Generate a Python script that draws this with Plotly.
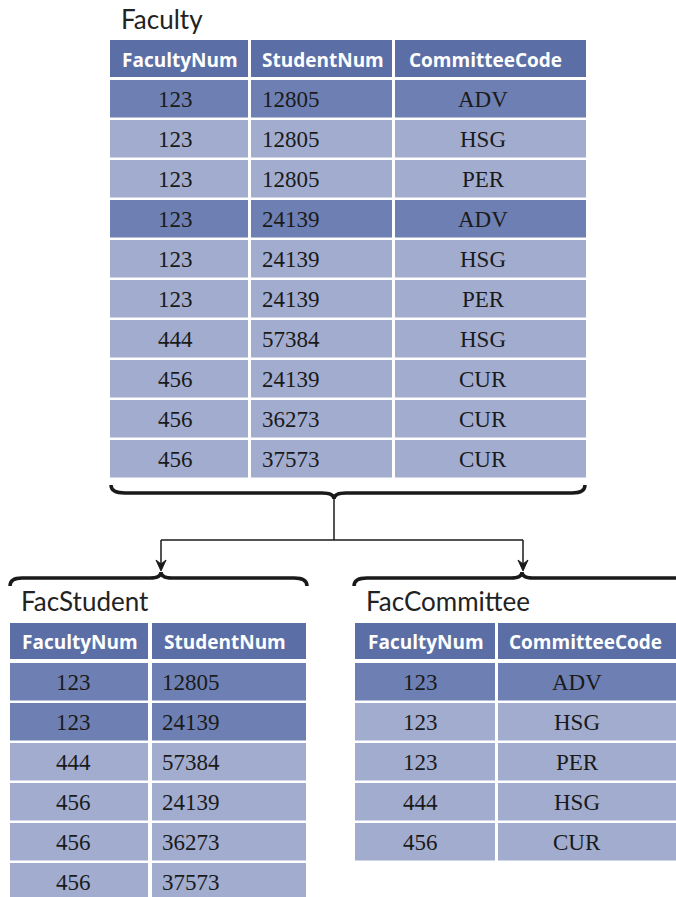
import plotly.graph_objects as go

# ---------------- data ----------------
faculty_title = "Faculty"
faculty_headers = ["FacultyNum", "StudentNum", "CommitteeCode"]
faculty_facnum = ["123", "123", "123", "123", "123", "123", "444", "456", "456", "456"]
faculty_stdnum = ["12805", "12805", "12805", "24139", "24139", "24139", "57384", "24139", "36273", "37573"]
faculty_code = ["ADV", "HSG", "PER", "ADV", "HSG", "PER", "HSG", "CUR", "CUR", "CUR"]

facstudent_title = "FacStudent"
facstudent_headers = ["FacultyNum", "StudentNum"]
facstudent_facnum = ["123", "123", "444", "456", "456", "456"]
facstudent_stdnum = ["12805", "24139", "57384", "24139", "36273", "37573"]

faccommittee_title = "FacCommittee"
faccommittee_headers = ["FacultyNum", "CommitteeCode"]
faccommittee_facnum = ["123", "123", "123", "444", "456"]
faccommittee_code = ["ADV", "HSG", "PER", "HSG", "CUR"]

# ---------------- style ----------------
HEADER = "#5b6fa6"
DARK = "#6e80b3"
LIGHT = "#a1accf"
TITLE_FONT = "Lato, 'Noto Sans', sans-serif"
HEAD_FONT = "'Open Sans', 'Noto Sans', sans-serif"
SERIF = "'Liberation Serif', 'Times New Roman', serif"

W, H = 676, 897
shapes = []
annotations = []


def rect(x0, x1, y0, y1, color):
    shapes.append(dict(type="rect", xref="x", yref="y", x0=x0, x1=x1, y0=y0, y1=y1,
                       fillcolor=color, line=dict(width=0), layer="below"))


def text(x, y, s, font, size, color, anchor="center", bold=False):
    annotations.append(dict(x=x, y=y, xref="x", yref="y", text=("<b>%s</b>" % s) if bold else s,
                            showarrow=False, xanchor=anchor, yanchor="middle",
                            font=dict(family=font, size=size, color=color)))


def table(title, title_xy, headers, columns, col_bounds, head_cx, cell_x, cell_anchor,
          header_y, row_top, row_pitch, row_h, dark_rows):
    text(title_xy[0], title_xy[1], title, TITLE_FONT, 26, "#222222", anchor="left")
    for (x0, x1), h, cx in zip(col_bounds, headers, head_cx):
        rect(x0, x1, header_y[0], header_y[1], HEADER)
        text(cx, (header_y[0] + header_y[1]) / 2 + 1, h, HEAD_FONT, 19, "white", bold=True)
    n = len(columns[0])
    for i in range(n):
        y0 = row_top + i * row_pitch
        y1 = y0 + row_h
        color = DARK if i in dark_rows else LIGHT
        for ci, (x0, x1) in enumerate(col_bounds):
            rect(x0, x1, y0, y1, color)
            text(cell_x[ci], (y0 + y1) / 2 + 0.5, columns[ci][i], SERIF, 23, "#1a1a1a",
                 anchor=cell_anchor[ci])


# Faculty table
table(faculty_title, (119, 19), faculty_headers,
      [faculty_facnum, faculty_stdnum, faculty_code],
      [(110, 248), (251, 392), (395, 586)],
      [180, 323, 485], [175, 260, 483], ["center", "left", "center"],
      (40, 77), 80, 40, 37.5, {0, 3})

# FacStudent table
table(facstudent_title, (19, 601), facstudent_headers,
      [facstudent_facnum, facstudent_stdnum],
      [(10, 148), (152, 306)],
      [80, 225], [73, 160], ["center", "left"],
      (623, 659), 663, 40, 37.5, {0, 1})

# FacCommittee table
table(faccommittee_title, (364, 601), faccommittee_headers,
      [faccommittee_facnum, faccommittee_code],
      [(355, 495), (498, 680)],
      [426, 585], [420, 577], ["center", "center"],
      (623, 659), 663, 40, 37.5, {0})

# braces
brace_line = dict(color="#1a1a1a", width=3.5)
shapes.append(dict(type="path", xref="x", yref="y", line=brace_line,
                   path="M 111,485 Q 111,493 125,493 L 322,493 Q 334,493 334,499 "
                        "Q 334,493 346,493 L 572,493 Q 585,493 585,485"))
shapes.append(dict(type="path", xref="x", yref="y", line=brace_line,
                   path="M 10,586 Q 10,578 22,578 L 150,578 Q 161,578 161,572 "
                        "Q 161,578 172,578 L 294,578 Q 307,578 307,586"))
shapes.append(dict(type="path", xref="x", yref="y", line=brace_line,
                   path="M 354,586 Q 354,578 367,578 L 511,578 Q 522,578 522,572 "
                        "Q 522,578 533,578 L 690,578"))

# connectors
conn = dict(color="#1a1a1a", width=1.5)
shapes.append(dict(type="line", xref="x", yref="y", x0=334, x1=334, y0=499, y1=540, line=conn))
shapes.append(dict(type="line", xref="x", yref="y", x0=161, x1=523, y0=540, y1=540, line=conn))
for ax in (161, 523):
    shapes.append(dict(type="line", xref="x", yref="y", x0=ax, x1=ax, y0=540, y1=564, line=conn))
    shapes.append(dict(type="path", xref="x", yref="y", fillcolor="#1a1a1a",
                       line=dict(color="#1a1a1a", width=1),
                       path="M %g,560 L %g,564 L %g,560 L %g,571 Z" % (ax - 5, ax, ax + 5, ax)))

fig = go.Figure()
fig.update_layout(
    width=W, height=H, margin=dict(l=0, r=0, t=0, b=0),
    paper_bgcolor="white", plot_bgcolor="white",
    xaxis=dict(range=[0, W], visible=False, fixedrange=True),
    yaxis=dict(range=[H, 0], visible=False, fixedrange=True),
    shapes=shapes, annotations=annotations, showlegend=False,
)
fig.write_html("out.html",
               config={"displayModeBar": False, "staticPlot": True},
               post_script="document.body.style.margin='0';document.body.style.overflow='hidden';")
